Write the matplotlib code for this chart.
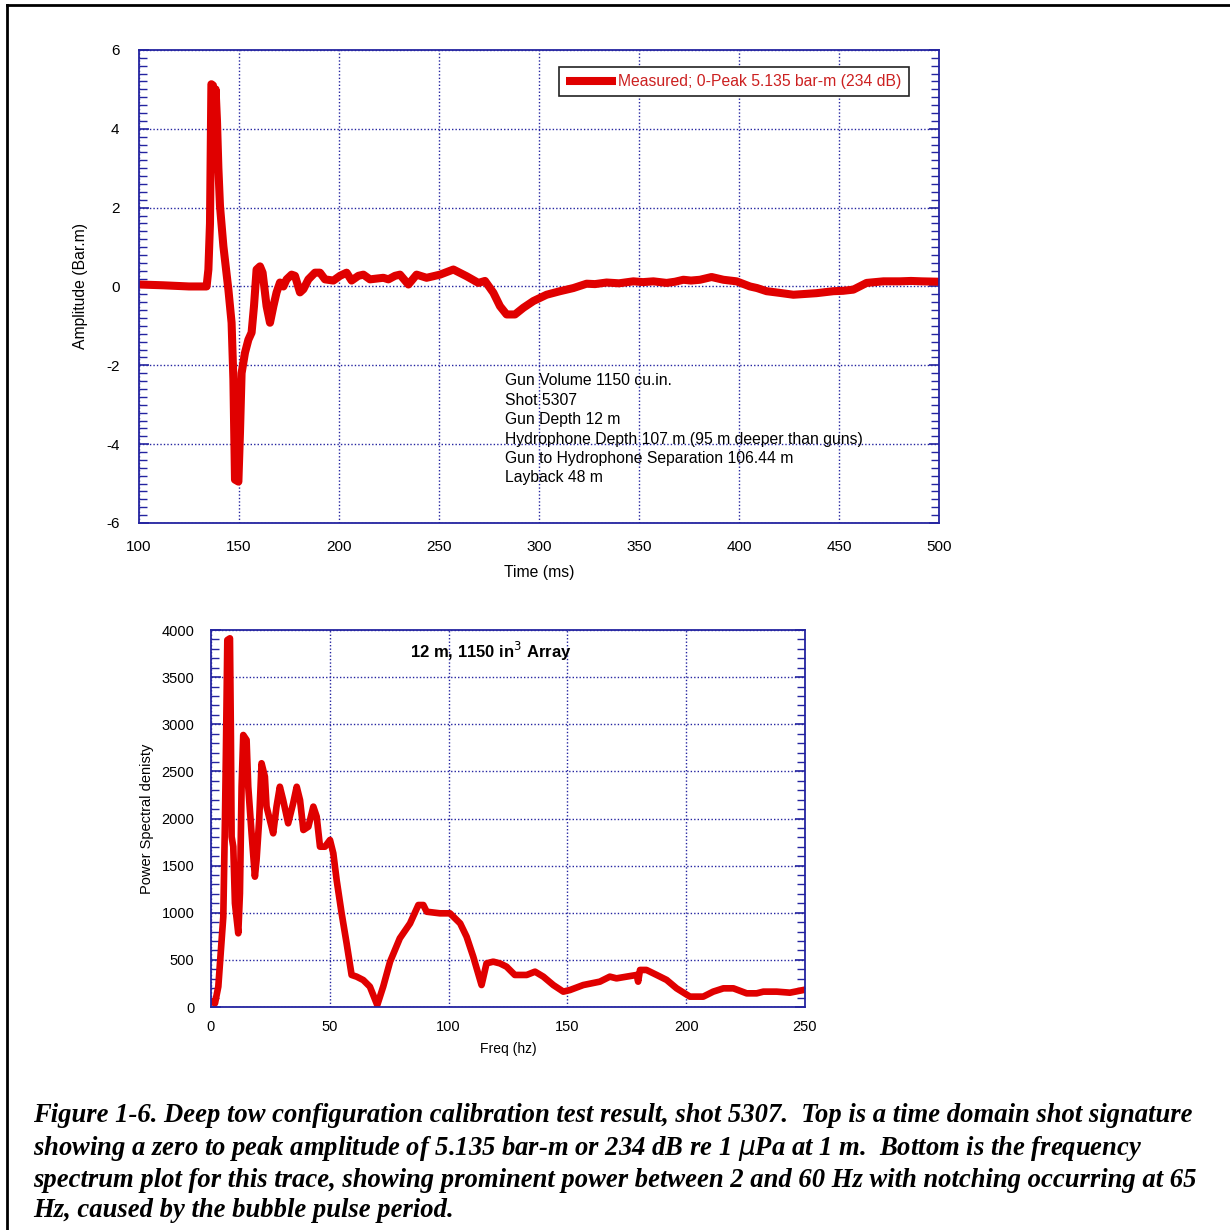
import matplotlib.pyplot as plt
from matplotlib.ticker import MultipleLocator
from matplotlib.lines import Line2D

plt.rcParams['font.family'] = ['Liberation Sans', 'DejaVu Sans']
plt.rcParams['axes.unicode_minus'] = False

# --- shot signature (time domain) ---
time_ms = [100, 112, 125, 133.8, 134.7, 135.5, 136.2, 137.0, 137.5, 138.3, 139.0,
           139.7, 140.5, 142.2, 144.7, 146.3, 147.2, 148.0, 149.7, 150.5, 151.3,
           153.0, 154.7, 156.3, 157.5, 158.8, 160.5, 161.8, 163.8, 165.5, 167.2,
           168.8, 170.5, 172.2, 173.8, 176.3, 178.0, 180.5, 182.2, 184.7, 188.0,
           190.5, 193.0, 197.2, 200.5, 203.8, 206.3, 209.7, 212.2, 215.5, 218.8,
           222.2, 224.7, 228.0, 230.5, 234.7, 238.8, 243.8, 250.5, 257.2, 263.8,
           269.7, 273.0, 277.2, 280.5, 283.8, 288.0, 292.2, 297.2, 303.8, 310.5,
           317.2, 323.8, 328.0, 333.8, 340.0, 347.2, 352.0, 357.2, 363.8, 368.0,
           372.2, 376.0, 380.5, 386.3, 392.2, 398.8, 405.5, 409.0, 413.8, 420.0,
           427.2, 433.0, 438.8, 447.2, 452.0, 457.2, 463.8, 468.0, 472.2, 480.5,
           486.0, 491.3, 500]
amplitude = [0.05, 0.03, 0.0, 0.0, 0.43, 1.6, 5.13, 5.1, 3.8, 5.0, 4.2,
             3.0, 2.04, 1.02, -0.08, -0.92, -2.36, -4.9, -4.95, -3.7, -2.2,
             -1.68, -1.35, -1.17, -0.5, 0.43, 0.51, 0.35, -0.5, -0.92, -0.5,
             -0.15, 0.1, 0.0, 0.18, 0.3, 0.27, -0.15, -0.07, 0.18, 0.35,
             0.35, 0.18, 0.15, 0.27, 0.35, 0.15, 0.27, 0.3, 0.18, 0.2,
             0.22, 0.18, 0.27, 0.30, 0.05, 0.30, 0.22, 0.30, 0.43, 0.26,
             0.09, 0.14, -0.16, -0.5, -0.71, -0.71, -0.54, -0.37, -0.21, -0.12,
             -0.04, 0.07, 0.06, 0.10, 0.08, 0.13, 0.11, 0.13, 0.09, 0.12,
             0.17, 0.15, 0.17, 0.24, 0.17, 0.13, 0.0, -0.04, -0.12, -0.16,
             -0.21, -0.19, -0.17, -0.12, -0.11, -0.08, 0.09, 0.11, 0.13, 0.13,
             0.14, 0.13, 0.12]

# --- power spectrum ---
freq_hz = [0.3, 1.7, 3.1, 4.1, 5.2, 5.9, 6.3, 6.9, 8.0, 8.4, 8.7, 9.4, 10.1,
           11.5, 12.2, 12.9, 13.6, 15.0, 15.7, 17.1, 18.5, 19.2, 20.3, 21.3,
           22.7, 23.4, 24.8, 26.2, 27.6, 29.0, 30.4, 32.5, 34.6, 36.1, 37.5,
           38.9, 41.0, 43.1, 44.5, 45.9, 48.0, 50.1, 51.5, 52.9, 55.0, 57.1,
           59.2, 61.3, 64.1, 66.9, 70.0, 72.5, 75.4, 79.5, 83.8, 87.3, 89.4,
           90.8, 96.4, 100.6, 104.9, 107.6, 110.4, 113.9, 116.0, 118.8, 121.6,
           124.4, 127.9, 132.9, 136.4, 139.9, 144.1, 148.3, 151.1, 156.7, 163.7,
           167.9, 170.7, 174.9, 179.2, 179.8, 180.6, 183.3, 187.6, 191.8, 196.0,
           201.6, 207.2, 211.4, 215.7, 219.9, 225.5, 229.7, 232.5, 238.1, 243.7,
           249.3]
psd = [56, 39, 216, 570, 958, 1984, 2692, 3894, 3912, 2868, 1807, 1701, 1100,
       782, 1206, 2337, 2886, 2833, 2337, 1843, 1383, 1560, 1984, 2586,
       2444, 2126, 1984, 1843, 2126, 2337, 2195, 1949, 2161, 2337, 2195,
       1878, 1913, 2126, 2020, 1701, 1701, 1772, 1631, 1348, 994, 676,
       340, 322, 286, 216, 21, 216, 481, 729, 887, 1082, 1082,
       1011, 994, 994, 887, 746, 534, 233, 463, 481, 463,
       428, 340, 340, 375, 322, 233, 163, 180, 233, 269,
       322, 304, 322, 340, 269, 393, 393, 340, 287, 198,
       110, 110, 163, 198, 198, 145, 145, 163, 163, 152,
       180]

info_lines = ["Gun Volume 1150 cu.in.", "Shot 5307", "Gun Depth 12 m",
              "Hydrophone Depth 107 m (95 m deeper than guns)",
              "Gun to Hydrophone Separation 106.44 m", "Layback 48 m"]

caption = ("Figure 1-6. Deep tow configuration calibration test result, shot 5307.  Top is a time domain shot signature\n"
           "showing a zero to peak amplitude of 5.135 bar-m or 234 dB re 1 $\\mu$Pa at 1 m.  Bottom is the frequency\n"
           "spectrum plot for this trace, showing prominent power between 2 and 60 Hz with notching occurring at 65\n"
           "Hz, caused by the bubble pulse period.")

RED = '#e00000'
NAVY = '#2424a0'


def style_axes(ax, ymajor, yminor, fs):
    for s in ax.spines.values():
        s.set_color(NAVY)
        s.set_linewidth(1.3)
    ax.yaxis.set_major_locator(MultipleLocator(ymajor))
    ax.yaxis.set_minor_locator(MultipleLocator(yminor))
    ax.tick_params(axis='y', which='both', direction='in', color=NAVY,
                   left=True, right=True, labelsize=fs, pad=14)
    ax.tick_params(axis='y', which='major', length=7, width=1.2)
    ax.tick_params(axis='y', which='minor', length=6, width=1.0)
    ax.tick_params(axis='x', which='both', length=0, labelsize=fs, pad=12)
    ax.grid(True, which='major', color=NAVY, linestyle=(0, (1, 1.5)), linewidth=1.0)


fig = plt.figure(figsize=(12.3, 12.3), dpi=100)

# outer frame
fig.add_artist(Line2D([7 / 1230, 7 / 1230], [0, 1 - 5 / 1230], transform=fig.transFigure,
                      color='black', linewidth=2))
fig.add_artist(Line2D([7 / 1230, 1], [1 - 5 / 1230, 1 - 5 / 1230], transform=fig.transFigure,
                      color='black', linewidth=2))

# top: time signature
ax1 = fig.add_axes([0.1130, 0.5748, 0.6504, 0.3846])
ax1.plot(time_ms, amplitude, color=RED, linewidth=5.8, solid_joinstyle='round',
         solid_capstyle='butt', label='Measured; 0-Peak 5.135 bar-m (234 dB)')
ax1.set_xlim(100, 500)
ax1.set_ylim(-6, 6)
ax1.xaxis.set_major_locator(MultipleLocator(50))
style_axes(ax1, 2, 0.2, 11)
ax1.set_xlabel('Time (ms)', fontsize=11.3, labelpad=8)
ax1.set_ylabel('Amplitude (Bar.m)', fontsize=11.3, labelpad=13)
leg = ax1.legend(loc='upper right', bbox_to_anchor=(0.962, 0.964), fancybox=False,
                 edgecolor='#222222', framealpha=1, fontsize=11.3, handlelength=3.2,
                 handletextpad=0.15, borderpad=0.45, borderaxespad=0)
leg.get_frame().set_linewidth(1.2)
for t in leg.get_texts():
    t.set_color('#cc2020')
ax1.text(283, -2.2, '\n'.join(info_lines), fontsize=11.3, va='top', ha='left',
         linespacing=1.37)

# bottom: spectrum
ax2 = fig.add_axes([0.1715, 0.1813, 0.4829, 0.3065])
ax2.plot(freq_hz, psd, color=RED, linewidth=4.8, solid_joinstyle='round')
ax2.set_xlim(0, 250)
ax2.set_ylim(0, 4000)
ax2.xaxis.set_major_locator(MultipleLocator(50))
style_axes(ax2, 500, 100, 10.5)
ax2.tick_params(axis='y', which='both', pad=12)
ax2.tick_params(axis='x', pad=9)
ax2.set_xlabel('Freq (hz)', fontsize=10, labelpad=6)
ax2.set_ylabel('Power Spectral denisty', fontsize=10.5, labelpad=5)
ax2.text(0.471, 0.942, '12 m, 1150 in$^3$ Array', transform=ax2.transAxes,
         ha='center', va='center', fontsize=12, fontweight='bold')

fig.text(33 / 1230, 1 - 1103 / 1230, caption, ha='left', va='top',
         family=['Liberation Serif', 'DejaVu Serif'], fontsize=19.2,
         fontweight='bold', fontstyle='italic', linespacing=1.27)

fig.savefig('out.png', dpi=100)
